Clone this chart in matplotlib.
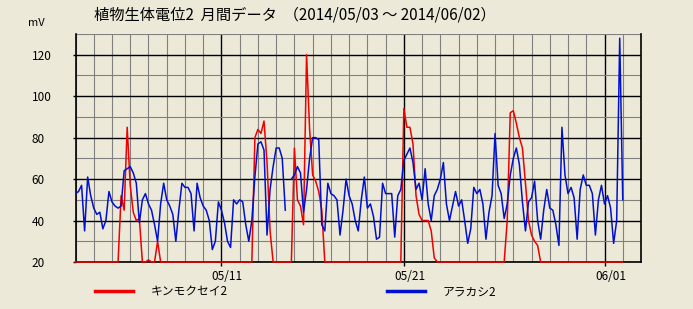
"""
Monthly plant bio-potential chart (2014/05/03 - 2014/06/02), two sensors.
"""

import matplotlib
matplotlib.use("Agg")
import matplotlib.pyplot as plt
import matplotlib.dates as mdates
import matplotlib.ticker as mticker
import matplotlib.transforms as mtrans
from matplotlib.lines import Line2D
import numpy as np
import pandas as pd

plt.rcParams["font.family"] = ["Noto Sans CJK JP", "DejaVu Sans"]

# ---------------------------------------------------------------------------
# Data (mV, one reading every 4 hours)
# ---------------------------------------------------------------------------
times = pd.date_range("2014-05-03 00:00", "2014-06-02 00:00", freq="4h")

kinmokusei = [
    20, 20, 20, 20, 20, 20,   # 05/03
    20, 20, 20, 20, 20, 20,
    20, 20, 20, 52, 45, 85,
    57, 44, 40, 41, 20, 20,
    21, 20, 20, 30, 20, 20,
    20, 20, 20, 20, 20, 20,   # 05/08
    20, 20, 20, 20, 20, 20,
    20, 20, 20, 20, 20, 20,
    20, 20, 20, 20, 20, 20,
    20, 20, 20, 20, 20, 80,
    84, 82, 88, 68, 35, 20,   # 05/13
    20, 20, 20, 20, 20, 20,
    75, 50, 47, 38, 120, 84,
    62, 59, 54, 45, 20, 20,
    20, 20, 20, 20, 20, 20,
    20, 20, 20, 20, 20, 20,   # 05/18
    20, 20, 20, 20, 20, 20,
    20, 20, 20, 20, 20, 20,
    94, 85, 85, 77, 52, 43,
    40, 40, 40, 35, 22, 20,
    20, 20, 20, 20, 20, 20,   # 05/23
    20, 20, 20, 20, 20, 20,
    20, 20, 20, 20, 20, 20,
    20, 20, 20, 20, 40, 92,
    93, 87, 80, 75, 58, 40,
    33, 30, 28, 20, 20, 20,   # 05/28
    20, 20, 20, 20, 20, 20,
    20, 20, 20, 20, 20, 20,
    20, 20, 20, 20, 20, 20,
    20, 20, 20, 20, 20, 20,
    20,                       # 06/02
]

arakashi = [
    53, 54, 57, 35, 61, 52,   # 05/03
    46, 43, 44, 36, 40, 54,
    49, 47, 46, 47, 64, 65,
    66, 63, 58, 39, 50, 53,
    48, 45, 38, 30, 48, 58,
    50, 47, 43, 30, 45, 58,   # 05/08
    56, 56, 53, 35, 58, 51,
    47, 45, 40, 26, 30, 49,
    45, 39, 30, 27, 50, 48,
    50, 49, 38, 30, 40, 61,
    77, 78, 74, 33, 55, 66,   # 05/13
    75, 75, 70, 45, np.nan, 60,
    62, 66, 63, 44, 55, 70,
    80, 80, 79, 38, 35, 58,
    53, 52, 50, 33, 45, 60,
    52, 48, 40, 35, 50, 61,   # 05/18
    46, 48, 42, 31, 32, 58,
    53, 53, 53, 32, 52, 55,
    69, 72, 75, 68, 55, 58,
    50, 65, 48, 40, 52, 55,
    60, 68, 48, 40, 47, 54,   # 05/23
    47, 50, 40, 29, 36, 56,
    53, 55, 48, 31, 44, 52,
    82, 57, 53, 41, 48, 62,
    70, 75, 67, 49, 35, 49,
    51, 59, 40, 31, 45, 55,   # 05/28
    46, 45, 38, 28, 85, 62,
    53, 56, 51, 31, 55, 62,
    57, 57, 53, 33, 50, 57,
    48, 52, 46, 29, 40, 128,
    50,                       # 06/02
]

series_names = ["キンモクセイ2", "アラカシ2"]
title = "植物生体電位2  月間データ  （2014/05/03 ～ 2014/06/02）"
major_days = ["2014-05-11", "2014-05-21", "2014-06-01"]

# ---------------------------------------------------------------------------
# Style
# ---------------------------------------------------------------------------
BG = "#ECE9D8"
C_RED = "#F00000"
C_BLUE = "#0010D0"
C_GRID = "#808080"

fig = plt.figure(figsize=(6.93, 3.09), dpi=100)
fig.patch.set_facecolor(BG)
ax = fig.add_axes([75.5 / 693, 1 - 262 / 309, 565.5 / 693, 228 / 309])
ax.set_facecolor(BG)

ax.plot(times, kinmokusei, color=C_RED, lw=1.1, zorder=3, clip_on=False)
ax.plot(times, arakashi, color=C_BLUE, lw=1.1, zorder=4)

ax.set_xlim(pd.Timestamp("2014-05-03"), pd.Timestamp("2014-06-03"))
ax.set_ylim(20, 130)

# ---------------------------------------------------------------------------
# Axes, ticks, grid
# ---------------------------------------------------------------------------
ax.xaxis.set_major_locator(mticker.FixedLocator(mdates.date2num(pd.to_datetime(major_days))))
ax.xaxis.set_major_formatter(mdates.DateFormatter("%m/%d"))
ax.xaxis.set_minor_locator(mdates.DayLocator())
ax.yaxis.set_major_locator(mticker.MultipleLocator(20))
ax.yaxis.set_minor_locator(mticker.MultipleLocator(10))

ax.grid(which="minor", color=C_GRID, lw=0.8, zorder=0)
ax.grid(which="major", color="black", lw=1.0, zorder=1)
ax.set_axisbelow(True)

ax.tick_params(which="minor", length=0)
ax.tick_params(axis="x", which="major", length=3, width=1, pad=3, labelsize=8.5)
ax.tick_params(axis="y", which="major", length=2, width=1, pad=29.5, labelsize=8.5)
for lab in ax.get_yticklabels():
    lab.set_horizontalalignment("left")
shift = mtrans.ScaledTranslation(6 / 100, 0, fig.dpi_scale_trans)
for lab in ax.get_xticklabels():
    lab.set_transform(lab.get_transform() + shift)

for side in ["left", "right", "bottom"]:
    ax.spines[side].set_color("black")
    ax.spines[side].set_linewidth(1.2)
ax.spines["top"].set_visible(False)

# ---------------------------------------------------------------------------
# Texts and legend
# ---------------------------------------------------------------------------
fig.text(94 / 693, 1 - 15 / 309, title, fontsize=11, va="center", ha="left")
fig.text(28 / 693, 1 - 23 / 309, "mV", fontsize=8, va="center", ha="left")

handles = [Line2D([], [], color=C_RED, lw=2.5), Line2D([], [], color=C_BLUE, lw=2.5)]
fig.legend(handles, series_names, loc="center left",
           bbox_to_anchor=(95 / 693, 1 - 292 / 309), ncol=2,
           frameon=False, fontsize=8.5, borderpad=0, borderaxespad=0,
           handlelength=3.2, handletextpad=1.5, columnspacing=13.5)

fig.savefig("out.png", dpi=100, facecolor=BG)
plt.close(fig)
